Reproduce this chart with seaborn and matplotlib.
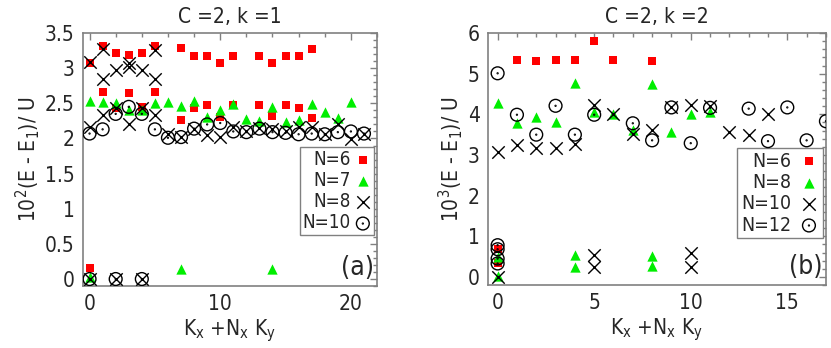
import matplotlib
matplotlib.use("Agg")
import matplotlib.pyplot as plt
import seaborn as sns
import pandas as pd
from matplotlib.path import Path
from matplotlib.ticker import AutoMinorLocator, FuncFormatter

# ---- panel (a): C=2, k=1 ----
a_k6 = [0, 1, 2, 3, 4, 5, 7, 8, 9, 10, 11, 13, 14, 15, 16, 17,
        1, 2, 3, 4, 5, 7, 8, 9, 10, 11, 13, 14, 15, 16, 17, 0]
a_e6 = [3.07, 3.32, 3.21, 3.19, 3.21, 3.32, 3.29, 3.18, 3.17, 3.07, 3.17, 3.17, 3.07, 3.17, 3.17, 3.28,
        2.66, 2.44, 2.65, 2.45, 2.66, 2.27, 2.43, 2.47, 2.30, 2.48, 2.47, 2.32, 2.47, 2.44, 2.29, 0.15]

a_k7 = [0, 1, 2, 3, 4, 5, 6, 7, 8, 9, 10, 11, 12, 13, 14, 15, 16, 17, 18, 19, 20,
        0, 7, 14]
a_e7 = [2.54, 2.52, 2.51, 2.40, 2.40, 2.50, 2.52, 2.46, 2.53, 2.30, 2.40, 2.49, 2.28, 2.25, 2.45,
        2.23, 2.26, 2.49, 2.38, 2.29, 2.52,
        0.03, 0.14, 0.14]

a_k8 = [0, 1, 1, 2, 3, 3, 4, 5, 5,
        0, 1, 2, 3, 4, 5, 6, 7, 8, 9, 10, 11, 12, 13, 14, 15, 16, 17, 18, 19, 20, 21,
        0, 2, 4]
a_e8 = [3.09, 3.28, 2.85, 2.97, 3.07, 3.02, 2.97, 3.26, 2.84,
        2.16, 2.33, 2.43, 2.20, 2.43, 2.33, 2.07, 2.02, 2.14, 2.05, 2.02, 2.16, 2.10, 2.15, 2.14,
        2.10, 2.17, 2.17, 2.07, 2.21, 1.99, 2.07,
        0.0, 0.0, 0.0]

a_k10 = [0, 1, 2, 3, 4, 5, 6, 7, 8, 9, 10, 11, 12, 13, 14, 15, 16, 17, 18, 19, 20, 21,
         0, 2, 4]
a_e10 = [2.07, 2.13, 2.35, 2.45, 2.35, 2.13, 2.01, 2.02, 2.14, 2.20, 2.22, 2.10, 2.09, 2.14,
         2.09, 2.08, 2.06, 2.07, 2.06, 2.09, 2.10, 2.07,
         0.0, 0.0, 0.0]

# ---- panel (b): C=2, k=2 ----
b_k6 = [1, 2, 3, 4, 5, 6, 8, 0, 0]
b_e6 = [5.33, 5.31, 5.33, 5.33, 5.80, 5.33, 5.31, 0.68, 0.33]

b_k8 = [0, 1, 2, 3, 4, 5, 6, 7, 8, 9, 10, 11,
        0, 0, 4, 4, 8, 8]
b_e8 = [4.28, 3.79, 3.93, 3.80, 4.76, 4.06, 4.01, 3.62, 4.74, 3.56, 4.01, 4.06,
        0.48, 0.03, 0.54, 0.25, 0.52, 0.27]

b_k10 = [0, 1, 2, 3, 4, 5, 6, 7, 8, 9, 10, 11, 12, 13, 14,
         0, 5, 5, 10, 10]
b_e10 = [3.07, 3.24, 3.18, 3.18, 3.28, 4.24, 4.01, 3.52, 3.62, 4.19, 4.24, 4.21, 3.56, 3.50, 4.01,
         0.0, 0.55, 0.25, 0.59, 0.24]

b_k12 = [0, 1, 2, 3, 4, 5, 7, 8, 9, 10, 11, 13, 14, 15, 16, 17,
         0, 0, 0, 0]
b_e12 = [5.01, 3.99, 3.50, 4.21, 3.50, 3.99, 3.78, 3.36, 4.17, 3.29, 4.16, 4.14, 3.34, 4.17, 3.36, 3.83,
         0.78, 0.68, 0.45, 0.33]

sns.set_style("white")
plt.rcParams["font.family"] = ["DejaVu Sans"]
plt.rcParams["font.stretch"] = "condensed"
plt.rcParams["mathtext.fontset"] = "dejavusans"

GRAY = "#808080"

# open circle with a dot in the middle (gnuplot style)
circ_dot = Path.make_compound_path(Path.unit_circle(), Path.circle((0, 0), 0.07))


def draw_series(ax, ks, es, style, label):
    df = pd.DataFrame({"k": ks, "E": es})
    if style == "square":
        sns.scatterplot(data=df, x="k", y="E", ax=ax, marker="s", s=36,
                        color="#ff0000", linewidth=0, label=label, zorder=3)
    elif style == "tri":
        sns.scatterplot(data=df, x="k", y="E", ax=ax, marker="^", s=55,
                        color="#00ee00", linewidth=0, label=label, zorder=4)
    elif style == "x":
        sns.scatterplot(data=df, x="k", y="E", ax=ax, marker="x", s=80,
                        color="black", linewidth=1.0, label=label, zorder=5)
    else:
        sns.scatterplot(data=df, x="k", y="E", ax=ax, marker=circ_dot, s=85,
                        facecolor="none", edgecolor="black", linewidth=1.0,
                        label=label, zorder=6)


def style_axes(ax, xlim, ylim, yticks, title, ylabel, tag):
    ax.set_xlim(*xlim)
    ax.set_ylim(*ylim)
    ax.set_yticks(yticks)
    ax.xaxis.set_minor_locator(AutoMinorLocator(5))
    ax.yaxis.set_minor_locator(AutoMinorLocator(5))
    ax.yaxis.set_major_formatter(FuncFormatter(lambda v, p: f"{v:g}"))
    ax.tick_params(which="both", direction="in", top=True, right=True,
                   color=GRAY, labelsize=15, width=1)
    ax.tick_params(which="major", length=5, pad=6)
    ax.tick_params(which="minor", length=3)
    for sp in ax.spines.values():
        sp.set_visible(True)
        sp.set_color(GRAY)
        sp.set_linewidth(1.2)
    ax.set_title(title, fontsize=15, pad=7)
    ax.set_xlabel(r"K$_\mathregular{x}$ +N$_\mathregular{x}$ K$_\mathregular{y}$", fontsize=15, labelpad=2)
    ax.set_ylabel(ylabel, fontsize=15, labelpad=2)
    ax.text(0.99, 0.02, tag, transform=ax.transAxes, ha="right", va="bottom", fontsize=19)


fig = plt.figure(figsize=(8.31, 3.48), dpi=100)
ax1 = fig.add_axes([0.0999, 0.178, 0.3538, 0.727])
ax2 = fig.add_axes([0.5872, 0.181, 0.4067, 0.724])

draw_series(ax1, a_k6, a_e6, "square", "N=6")
draw_series(ax1, a_k7, a_e7, "tri", "N=7")
draw_series(ax1, a_k8, a_e8, "x", "N=8")
draw_series(ax1, a_k10, a_e10, "circ", "N=10")

draw_series(ax2, b_k6, b_e6, "square", "N=6")
draw_series(ax2, b_k8, b_e8, "tri", "N=8")
draw_series(ax2, b_k10, b_e10, "x", "N=10")
draw_series(ax2, b_k12, b_e12, "circ", "N=12")

style_axes(ax1, (-0.5, 22), (-0.1, 3.5), [0, 0.5, 1, 1.5, 2, 2.5, 3, 3.5],
           "C =2, k =1", r"10$^2$(E - E$_1$)/ U", "(a)")
style_axes(ax2, (-0.5, 17), (-0.2, 6), [0, 1, 2, 3, 4, 5, 6],
           "C =2, k =2", r"10$^3$(E - E$_1$)/ U", "(b)")

leg_opts = [(ax1, (0.99, 0.55), 13.5, 0.15, 0.2, 0.9),
            (ax2, (0.99, 0.545), 14, 0.2, 0.4, 1.0)]
for ax, anchor, fs, bpad, tpad, hlen in leg_opts:
    leg = ax.legend(loc="upper right", bbox_to_anchor=anchor, markerfirst=False,
                    fontsize=fs, frameon=True, fancybox=False, framealpha=1,
                    edgecolor=GRAY, borderpad=bpad, labelspacing=0.12,
                    handletextpad=tpad, handlelength=hlen, borderaxespad=0)
    leg.get_frame().set_linewidth(1.0)

fig.savefig("out.png", dpi=100)
